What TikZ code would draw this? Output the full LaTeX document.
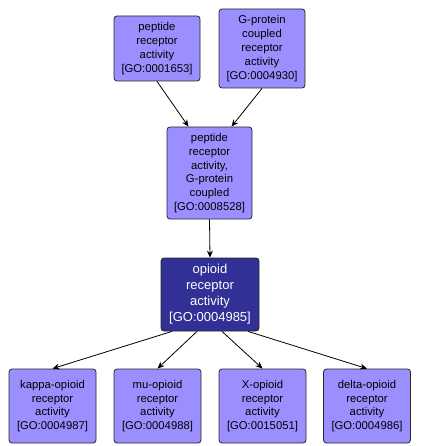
\documentclass[tikz,border=0pt]{standalone}
\usepackage{fontspec}
\setmainfont{Liberation Sans}
\usetikzlibrary{arrows.meta,calc}

\definecolor{golight}{RGB}{155,143,255}
\definecolor{godark}{RGB}{48,48,150}

\tikzset{
  goterm/.style={draw=black!85, line width=0.8pt, rounded corners=3pt, fill=golight,
    inner sep=0pt, align=center, font=\fontsize{11.3}{13.8}\selectfont},
  goquery/.style={goterm, fill=godark, text=white, font=\fontsize{13}{16}\selectfont},
  isa/.style={draw=black, line width=0.8pt, -{Stealth[length=7pt,width=6pt]}}
}

\begin{document}
\begin{tikzpicture}[x=1pt, y=-1pt]

  %% ---- terms ----
  \node[goterm, minimum width=86pt, minimum height=65pt] (pra) at (157,48.5)
    {peptide\\receptor\\activity\\{[GO:0001653]}};
  \node[goterm, minimum width=86pt, minimum height=79pt] (gpcr) at (262,48.5)
    {G-protein\\coupled\\receptor\\activity\\{[GO:0004930]}};
  \node[goterm, minimum width=85pt, minimum height=92pt] (pgpc) at (209.5,173)
    {peptide\\receptor\\activity,\\G-protein\\coupled\\{[GO:0008528]}};
  \node[goquery, minimum width=98pt, minimum height=73pt] (opioid) at (210,294.5)
    {opioid\\receptor\\activity\\{[GO:0004985]}};

  \node[goterm, minimum width=87pt, minimum height=74pt] (kappa) at (52.5,406)
    {kappa-opioid\\receptor\\activity\\{[GO:0004987]}};
  \node[goterm, minimum width=87pt, minimum height=74pt] (mu) at (157.5,406)
    {mu-opioid\\receptor\\activity\\{[GO:0004988]}};
  \node[goterm, minimum width=87pt, minimum height=74pt] (xop) at (262.5,406)
    {X-opioid\\receptor\\activity\\{[GO:0015051]}};
  \node[goterm, minimum width=87pt, minimum height=74pt] (delta) at (367,406)
    {delta-opioid\\receptor\\activity\\{[GO:0004986]}};

  %% ---- edges ----
  \draw[isa] (pra.south) -- ($(pgpc.north)+(-21,0)$);
  \draw[isa] (gpcr.south) -- ($(pgpc.north)+(22,0)$);
  \draw[isa] (pgpc.south) -- (opioid.north);
  \draw[isa] ($(opioid.south)+(-38,0)$) -- (kappa.north);
  \draw[isa] ($(opioid.south)+(-13,0)$) -- (mu.north);
  \draw[isa] ($(opioid.south)+(12,0)$) -- (xop.north);
  \draw[isa] ($(opioid.south)+(38,0)$) -- (delta.north);

  \pgfresetboundingbox
  \path[use as bounding box] (0,0) rectangle (420,446);
\end{tikzpicture}
\end{document}
